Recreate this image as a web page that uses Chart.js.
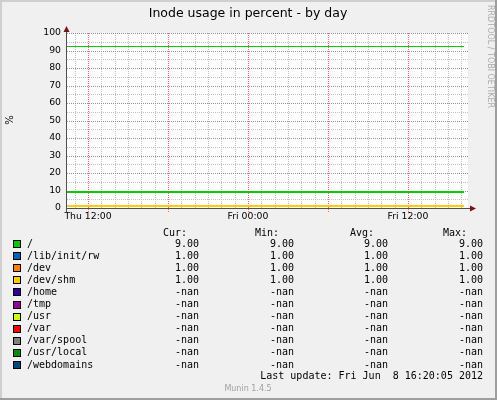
<!DOCTYPE html>
<html>
<head>
<meta charset="utf-8">
<script src="https://cdn.jsdelivr.net/npm/chart.js@4.4.1/dist/chart.umd.min.js"></script>
<style>
html, body { margin: 0; padding: 0; background: #f0f0f0; }
canvas { display: block; }
</style>
</head>
<body>
<canvas id="myCanvas" width="497" height="400"></canvas>
<script>
// time is in hours counted from Thu 00:00
let timeHours = [10.35, 40.2]
let xLabelHours = [12, 24, 36]
let xLabelTexts = ["Thu 12:00", "Fri 00:00", "Fri 12:00"]

let names = ["/", "/lib/init/rw", "/dev", "/dev/shm", "/home", "/tmp", "/usr", "/var", "/var/spool", "/usr/local", "/webdomains"]
let colors = ["#00cc00", "#0066b3", "#ff8000", "#ffcc00", "#330099", "#990099", "#ccff00", "#ff0000", "#808080", "#008f00", "#00487d"]
let lineVals = [[9, 9], [1, 1], [1, 1], [1, 1], [null, null], [null, null], [null, null], [null, null], [null, null], [null, null], [null, null]]
let curVals = [9, 1, 1, 1, null, null, null, null, null, null, null]
let minVals = [9, 1, 1, 1, null, null, null, null, null, null, null]
let avgVals = [9, 1, 1, 1, null, null, null, null, null, null, null]
let maxVals = [9, 1, 1, 1, null, null, null, null, null, null, null]
let warnLevel = [92, 92]

let title = "Inode usage in percent - by day"
let lastUpdate = "Last update: Fri Jun  8 16:20:05 2012"

let minorGrid = "#c2c2c2"
let majorGrid = "#e87070"

let datasets = []
for (let i = 0; i < names.length; i++) {
    datasets.push({
        label: names[i],
        data: timeHours.map(function (h, j) { return { x: h, y: lineVals[i][j] } }),
        borderColor: colors[i],
        borderWidth: 2,
        pointRadius: 0,
        order: names.length - i + 1
    })
}
datasets.push({
    label: "warning",
    data: timeHours.map(function (h, j) { return { x: h, y: warnLevel[j] } }),
    borderColor: colors[0],
    borderWidth: 1,
    pointRadius: 0,
    order: 0
})

function fmt(v) {
    return v == null ? "-nan" : v.toFixed(2)
}

// dotted line, one pixel on and one off
function dotsH(c, y, x1, x2) {
    for (let x = x1; x <= x2; x += 2) c.fillRect(x, y, 1, 1)
}
function dotsV(c, x, y1, y2) {
    for (let y = y1; y <= y2; y += 2) c.fillRect(x, y, 1, 1)
}

let munin = {
    id: "munin",
    beforeDraw: function (chart) {
        let c = chart.ctx
        c.save()
        c.fillStyle = "#f0f0f0"
        c.fillRect(0, 0, 497, 400)
        // frame
        c.fillStyle = "#cfcfcf"
        c.fillRect(0, 0, 497, 2)
        c.fillRect(0, 0, 2, 400)
        c.fillStyle = "#9e9e9e"
        c.fillRect(0, 398, 497, 2)
        c.fillRect(495, 0, 2, 400)
        let a = chart.chartArea
        c.fillStyle = "#ffffff"
        c.fillRect(a.left, a.top, a.right - a.left, a.bottom - a.top)
        c.restore()
    },
    beforeDatasetsDraw: function (chart) {
        let c = chart.ctx
        let a = chart.chartArea
        let xs = chart.scales.x
        let ys = chart.scales.y
        c.save()
        // minor grid first, major on top
        for (let pass = 0; pass < 2; pass++) {
            c.fillStyle = pass ? majorGrid : minorGrid
            for (let v = 5; v <= 100; v += 5) {
                if ((v % 10 == 0) != (pass == 1)) continue
                dotsH(c, Math.round(ys.getPixelForValue(v)), Math.round(a.left) + 1, Math.round(a.right))
            }
            for (let h = 11; h <= 40; h++) {
                let major = h % 6 == 0
                if (major != (pass == 1)) continue
                dotsV(c, Math.round(xs.getPixelForValue(h)), Math.round(a.top), major ? Math.round(a.bottom) + 4 : Math.round(a.bottom))
            }
        }
        c.fillStyle = "#000"
        c.font = "9.3px 'DejaVu Sans'"
        c.textAlign = "center"
        c.textBaseline = "top"
        for (let i = 0; i < xLabelHours.length; i++) {
            c.fillText(xLabelTexts[i], xs.getPixelForValue(xLabelHours[i]), 212)
        }
        c.restore()
    },
    // snap each line to whole pixels like rrdtool does
    beforeDatasetDraw: function (chart, args) {
        let c = chart.ctx
        c.save()
        let el = args.meta.data[0]
        if (el && isFinite(el.y)) {
            let w = chart.data.datasets[args.index].borderWidth
            let target = w % 2 ? Math.floor(el.y) + 0.5 : Math.round(el.y)
            c.translate(0, target - el.y)
        }
    },
    afterDatasetDraw: function (chart) {
        chart.ctx.restore()
    },
    afterDraw: function (chart) {
        let c = chart.ctx
        let a = chart.chartArea
        c.save()
        // axes
        c.strokeStyle = "#505050"
        c.lineWidth = 1
        c.beginPath()
        c.moveTo(66.5, a.bottom + 4)
        c.lineTo(66.5, 30)
        c.moveTo(66, 208.5)
        c.lineTo(472, 208.5)
        c.stroke()
        c.fillStyle = "#7a1414"
        c.beginPath()
        c.moveTo(66.5, 26)
        c.lineTo(63.5, 32)
        c.lineTo(69.5, 32)
        c.closePath()
        c.fill()
        c.beginPath()
        c.moveTo(476, 208.5)
        c.lineTo(470, 205.5)
        c.lineTo(470, 211.5)
        c.closePath()
        c.fill()

        // title
        c.fillStyle = "#000"
        c.font = "12.5px 'DejaVu Sans'"
        c.textAlign = "center"
        c.textBaseline = "middle"
        c.fillText(title, 248, 14)

        // y label
        c.save()
        c.translate(10, 120)
        c.rotate(-Math.PI / 2)
        c.font = "10px 'DejaVu Sans'"
        c.fillText("%", 0, 0)
        c.restore()

        // side text
        c.save()
        c.translate(490, 5)
        c.rotate(Math.PI / 2)
        c.textAlign = "left"
        c.fillStyle = "#aaaaaa"
        c.font = "8px 'DejaVu Sans'"
        c.fillText("RRDTOOL / TOBI OETIKER", 0, 0)
        c.restore()

        // legend
        c.font = "10px 'DejaVu Sans Mono'"
        c.textAlign = "right"
        c.fillStyle = "#000"
        c.fillText("Cur:", 187, 233)
        c.fillText("Min:", 279, 233)
        c.fillText("Avg:", 374, 233)
        c.fillText("Max:", 467, 233)
        for (let i = 0; i < names.length; i++) {
            let y = 244 + i * 12.1
            c.fillStyle = colors[i]
            c.fillRect(13, Math.round(y) - 3, 8, 7)
            c.strokeStyle = "#000"
            c.strokeRect(13.5, Math.round(y) - 3.5, 7, 7)
            c.fillStyle = "#000"
            c.textAlign = "left"
            c.fillText(names[i], 27, y)
            c.textAlign = "right"
            c.fillText(fmt(curVals[i]), 199, y)
            c.fillText(fmt(minVals[i]), 294, y)
            c.fillText(fmt(avgVals[i]), 388, y)
            c.fillText(fmt(maxVals[i]), 483, y)
        }
        c.fillText(lastUpdate, 483, 376)

        c.textAlign = "center"
        c.fillStyle = "#a0a0a0"
        c.font = "8px 'DejaVu Sans'"
        c.fillText("Munin 1.4.5", 248, 389)
        c.restore()
    }
}

let ctx = document.querySelector("#myCanvas").getContext("2d")
let chart = new Chart(ctx, {
    type: "line",
    data: { datasets: datasets },
    plugins: [munin],
    options: {
        responsive: false,
        animation: false,
        devicePixelRatio: 1,
        layout: { padding: { left: 0, top: 33, right: 29, bottom: 192 } },
        plugins: {
            legend: { display: false },
            tooltip: { enabled: false }
        },
        scales: {
            x: {
                type: "linear",
                min: timeHours[0],
                max: 40.5,
                afterFit: function (s) { s.height = 0 },
                grid: { display: false, drawTicks: false },
                border: { display: false },
                ticks: { display: false }
            },
            y: {
                min: 0,
                max: 100,
                afterFit: function (s) { s.width = 66 },
                grid: { display: false, drawTicks: false },
                border: { display: false },
                ticks: {
                    stepSize: 10,
                    padding: 5,
                    color: "#000",
                    font: { family: "DejaVu Sans", size: 9.3 }
                }
            }
        }
    }
})
</script>
</body>
</html>
